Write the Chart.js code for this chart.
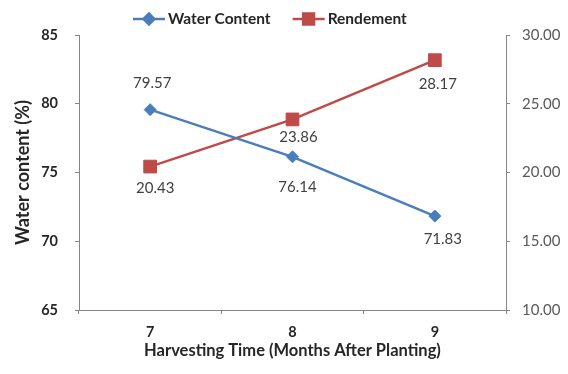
<!DOCTYPE html>
<html>
<head>
<meta charset="utf-8">
<script src="https://cdn.jsdelivr.net/npm/chart.js@4.4.1/dist/chart.umd.min.js"></script>
<style>
  html, body { margin: 0; padding: 0; background: #fff; }
  #wrap { width: 568px; height: 374px; }
</style>
</head>
<body>
<div id="wrap"><canvas id="c" width="568" height="374"></canvas></div>
<script>
// Harvest months and measured values
const months = ['7', '8', '9'];
const waterContent = [79.57, 76.14, 71.83];
const rendement = [20.43, 23.86, 28.17];
const waterTicks = [65, 70, 75, 80, 85];
const rendementTicks = [10, 15, 20, 25, 30];

const BLUE = '#4A7EBB';
const RED = '#BE4B48';
const AXIS = '#868686';
const FONT = 'Lato, "Open Sans", sans-serif';

// where each value label sits relative to its point (px)
const labelShift = [
  [[2, -27], [5, 30], [8, 23]],
  [[5, 22], [6, 18], [3, 24]]
];

// value labels beside the markers
const valueLabels = {
  id: 'valueLabels',
  afterDatasetsDraw(chart) {
    const ctx = chart.ctx;
    ctx.save();
    ctx.font = '15px ' + FONT;
    ctx.fillStyle = '#404040';
    ctx.textAlign = 'center';
    ctx.textBaseline = 'middle';
    chart.data.datasets.forEach((ds, i) => {
      chart.getDatasetMeta(i).data.forEach((pt, j) => {
        const [dx, dy] = labelShift[i][j];
        ctx.fillText(ds.data[j].toFixed(2), pt.x + dx, pt.y + dy);
      });
    });
    ctx.restore();
  }
};

// line-and-marker legend across the top
const topLegend = {
  id: 'topLegend',
  afterDraw(chart) {
    const ctx = chart.ctx;
    const y = 19;
    let x = 133;
    ctx.save();
    ctx.font = 'bold 15.5px ' + FONT;
    ctx.textBaseline = 'middle';
    ctx.textAlign = 'left';
    chart.data.datasets.forEach((ds) => {
      ctx.strokeStyle = ds.borderColor;
      ctx.lineWidth = 2.5;
      ctx.beginPath();
      ctx.moveTo(x, y);
      ctx.lineTo(x + 32, y);
      ctx.stroke();
      Chart.helpers.drawPoint(ctx, {
        pointStyle: ds.pointStyle,
        radius: ds.pointRadius * (ds.pointStyle === 'rect' ? 0.85 : 0.9),
        borderWidth: 1
      }, x + 16, y);
      ctx.fillStyle = ds.pointBackgroundColor;
      ctx.fill();
      ctx.fillStyle = '#262626';
      ctx.fillText(ds.label, x + 35, y);
      x += 35 + ctx.measureText(ds.label).width + 22;
    });
    ctx.restore();
  }
};

new Chart(document.getElementById('c'), {
  type: 'line',
  data: {
    labels: months,
    datasets: [
      {
        label: 'Water Content',
        data: waterContent,
        yAxisID: 'y',
        borderColor: BLUE,
        backgroundColor: BLUE,
        pointBackgroundColor: BLUE,
        pointBorderColor: BLUE,
        pointStyle: 'rectRot',
        pointRadius: 6,
        pointBorderWidth: 1,
        borderWidth: 2.5,
        tension: 0
      },
      {
        label: 'Rendement',
        data: rendement,
        yAxisID: 'y1',
        borderColor: RED,
        backgroundColor: RED,
        pointBackgroundColor: RED,
        pointBorderColor: RED,
        pointStyle: 'rect',
        pointRadius: 9,
        pointBorderWidth: 1,
        borderWidth: 2.5,
        tension: 0
      }
    ]
  },
  options: {
    responsive: false,
    animation: false,
    devicePixelRatio: 1,
    layout: { padding: { top: 35, left: 0, right: 0, bottom: 0 } },
    plugins: {
      legend: { display: false },
      tooltip: { enabled: false }
    },
    scales: {
      x: {
        type: 'category',
        offset: true,
        border: { color: AXIS, width: 1 },
        grid: { display: true, drawOnChartArea: false, drawTicks: true, tickLength: 4, color: AXIS, offset: true },
        ticks: { color: '#262626', font: { family: FONT, size: 14.5, weight: 'bold' }, padding: 10 },
        title: {
          display: true,
          text: 'Harvesting Time (Months After Planting)',
          color: '#262626',
          font: { family: FONT, size: 16.5, weight: 'bold' },
          padding: { top: 0, bottom: 13 }
        },
        afterFit(s) { s.height = 64; }
      },
      y: {
        position: 'left',
        min: 65,
        max: 85,
        border: { color: AXIS, width: 1 },
        grid: { drawOnChartArea: false, drawTicks: true, tickLength: 4, color: AXIS },
        afterBuildTicks(s) { s.ticks = waterTicks.map(v => ({ value: v })); },
        ticks: { color: '#262626', font: { family: FONT, size: 14.5, weight: 'bold' }, padding: 17 },
        title: {
          display: true,
          text: 'Water content (%)',
          color: '#262626',
          font: { family: FONT, size: 18, weight: 'bold' },
          padding: { top: 12, bottom: 0 }
        },
        afterFit(s) { s.width = 79; }
      },
      y1: {
        position: 'right',
        min: 10,
        max: 30,
        border: { color: AXIS, width: 1 },
        grid: { drawOnChartArea: false, drawTicks: true, tickLength: 4, color: AXIS },
        afterBuildTicks(s) { s.ticks = rendementTicks.map(v => ({ value: v })); },
        ticks: {
          color: '#595959',
          font: { family: FONT, size: 15 },
          padding: 12,
          callback: v => Number(v).toFixed(2)
        },
        afterFit(s) { s.width = 62; }
      }
    }
  },
  plugins: [valueLabels, topLegend]
});
</script>
</body>
</html>
